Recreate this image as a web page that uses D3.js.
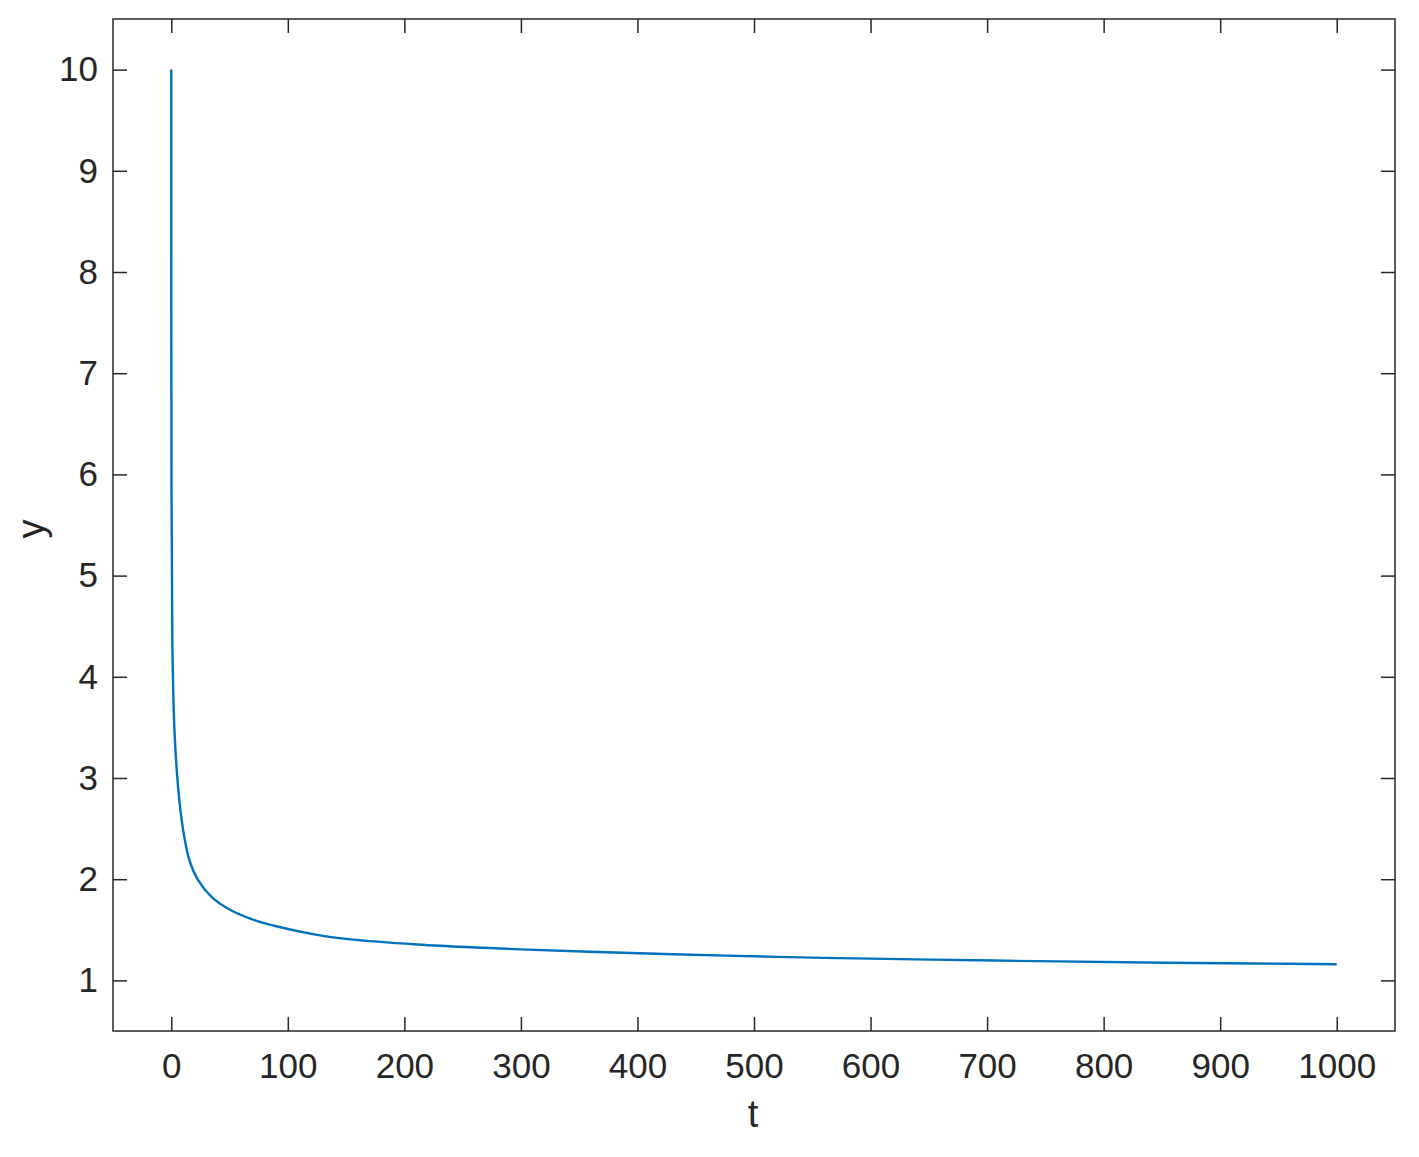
<!DOCTYPE html>
<html>
<head>
<meta charset="utf-8">
<script src="https://cdn.jsdelivr.net/npm/d3@7"></script>
<style>
  html, body { margin: 0; padding: 0; background: #fff; }
  svg { display: block; }
</style>
</head>
<body>
<script>
// Data
const tValues = [0, 0.2, 0.9, 1.2, 2.1, 3.2, 5.0, 7.2, 11, 16, 23, 35, 50, 69, 90, 125, 154, 211, 268, 300, 380, 476, 560, 652, 760, 853, 930, 1000];
const yValues = [10, 5.85, 4.37, 4.14, 3.67, 3.36, 3.03, 2.75, 2.43, 2.17, 1.99, 1.82, 1.70, 1.605, 1.535, 1.45, 1.405, 1.355, 1.322, 1.307, 1.275, 1.245, 1.223, 1.205, 1.188, 1.175, 1.167, 1.16];
const xTicks = [0, 100, 200, 300, 400, 500, 600, 700, 800, 900, 1000];
const yTicks = [1, 2, 3, 4, 5, 6, 7, 8, 9, 10];
const xLabel = "t";
const yLabel = "y";

const W = 1419, H = 1157;
const margin = { left: 113, top: 19, right: W - 1395, bottom: H - 1031 };
const iw = W - margin.left - margin.right;
const ih = H - margin.top - margin.bottom;

const svg = d3.select("body").append("svg").attr("width", W).attr("height", H);
const g = svg.append("g").attr("transform", `translate(${margin.left},${margin.top})`);

const x = d3.scaleLinear().domain([-50, 1050]).range([0, iw]);
const y = d3.scaleLinear().domain([0.5, 10.5]).range([ih, 0]);

const axisColor = "#262626";
const font = "'Liberation Sans', Arial, Helvetica, sans-serif";
const tickLen = 14;

// bottom axis with labels
const xAxis = g.append("g").attr("transform", `translate(0,${ih})`)
  .call(d3.axisBottom(x).tickValues(xTicks).tickSize(-tickLen).tickPadding(22).tickFormat(d3.format("d")));
// left axis with labels
const yAxis = g.append("g")
  .call(d3.axisLeft(y).tickValues(yTicks).tickSize(-tickLen).tickPadding(15).tickFormat(d3.format("d")));
// top and right mirrored ticks
const xTop = g.append("g").call(d3.axisTop(x).tickValues(xTicks).tickSize(-tickLen).tickFormat(""));
const yRight = g.append("g").attr("transform", `translate(${iw},0)`)
  .call(d3.axisRight(y).tickValues(yTicks).tickSize(-tickLen).tickFormat(""));

[xAxis, yAxis, xTop, yRight].forEach(a => {
  a.select(".domain").remove();
  a.selectAll(".tick line").attr("stroke", axisColor).attr("stroke-width", 1.5);
  a.selectAll("text").attr("fill", axisColor).style("font-family", font).style("font-size", "35px");
});
xAxis.selectAll("text").attr("dy", "0.71em");

// box
g.append("rect").attr("x", 0).attr("y", 0).attr("width", iw).attr("height", ih)
  .attr("fill", "none").attr("stroke", axisColor).attr("stroke-width", 1.5);

// line
const data = tValues.map((t, i) => ({ t, v: yValues[i] }));
const line = d3.line().x(d => x(d.t)).y(d => y(d.v)).curve(d3.curveCatmullRom.alpha(0.5));
g.append("path").datum(data).attr("d", line)
  .attr("fill", "none").attr("stroke", "#0072BD").attr("stroke-width", 2.4)
  .attr("stroke-linejoin", "round");

// axis labels
svg.append("text").attr("x", 753).attr("y", 1127).attr("text-anchor", "middle")
  .attr("fill", axisColor).style("font-family", font).style("font-size", "38px").text(xLabel);
svg.append("text").attr("transform", `translate(44,${margin.top + ih / 2 + 4}) rotate(-90)`)
  .attr("text-anchor", "middle").attr("fill", axisColor)
  .style("font-family", font).style("font-size", "38px").text(yLabel);
</script>
</body>
</html>
